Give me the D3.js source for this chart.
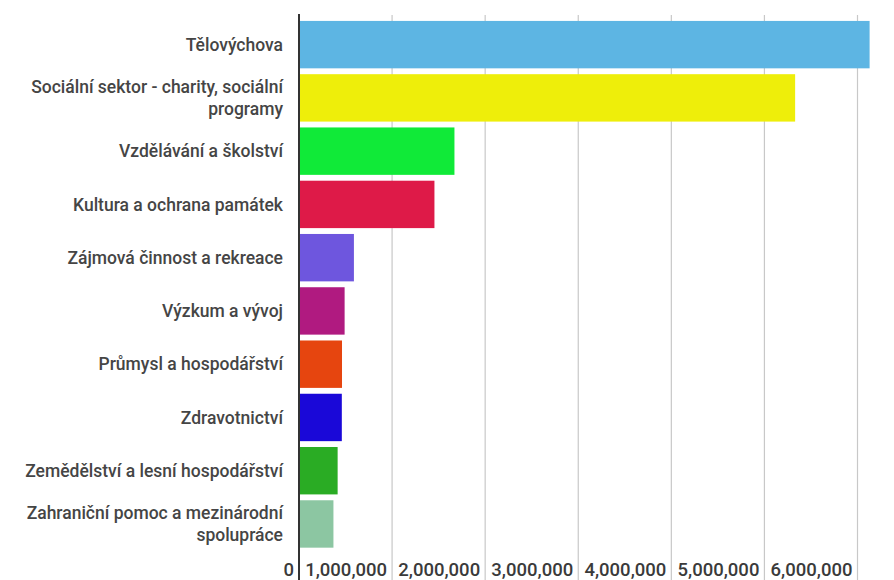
<!DOCTYPE html>
<html>
<head>
<meta charset="utf-8">
<script src="https://cdn.jsdelivr.net/npm/d3@7"></script>
<style>
  html, body { margin: 0; padding: 0; background: #fff; }
  svg { display: block; }
</style>
</head>
<body>
<svg id="chart" width="894" height="580"></svg>
<script>
const categories = [
  ["Tělovýchova"],
  ["Sociální sektor - charity, sociální", "programy"],
  ["Vzdělávání a školství"],
  ["Kultura a ochrana památek"],
  ["Zájmová činnost a rekreace"],
  ["Výzkum a vývoj"],
  ["Průmysl a hospodářství"],
  ["Zdravotnictví"],
  ["Zemědělství a lesní hospodářství"],
  ["Zahraniční pomoc a mezinárodní", "spolupráce"]
];
const values = [6130000, 5330000, 1670000, 1455000, 590000, 490000, 462000, 460000, 415000, 370000];
const colors = ["#5db5e3", "#eeee0a", "#10ea38", "#de1a48", "#6e56de", "#b01a80", "#e6450f", "#1a08d8", "#2aac24", "#8cc6a2"];
const tickValues = [0, 1000000, 2000000, 3000000, 4000000, 5000000, 6000000];

const svg = d3.select("#chart");
const x = d3.scaleLinear().domain([0, 6000000]).range([299, 857.5]);
const y = d3.scaleBand().domain(d3.range(categories.length)).range([18, 550.6]).paddingInner(0.11).paddingOuter(0.055);

const font = "Roboto, 'Noto Sans', sans-serif";

// gridlines
svg.append("g").selectAll("line").data(tickValues.slice(1)).join("line")
  .attr("x1", d => x(d)).attr("x2", d => x(d))
  .attr("y1", 15).attr("y2", 580)
  .attr("stroke", "#c8c8c8").attr("stroke-width", 1.2);

// bars
svg.append("g").selectAll("rect").data(values).join("rect")
  .attr("x", x(0)).attr("y", (d, i) => y(i))
  .attr("width", d => x(d) - x(0)).attr("height", y.bandwidth())
  .attr("fill", (d, i) => colors[i]);

// axis line
svg.append("line").attr("x1", x(0)).attr("x2", x(0)).attr("y1", 14).attr("y2", 580)
  .attr("stroke", "#333").attr("stroke-width", 2);

// tick labels
svg.append("g").selectAll("text").data(tickValues).join("text")
  .attr("x", d => x(d) - 5).attr("y", 575.5)
  .attr("text-anchor", "end")
  .attr("font-family", font).attr("font-size", 18.5).attr("font-weight", 500)
  .attr("fill", "#3a3a3a")
  .text(d => d3.format(",")(d));

// category labels
const lab = svg.append("g").selectAll("text").data(categories).join("text")
  .attr("text-anchor", "end")
  .attr("font-family", font).attr("font-size", 17.5).attr("font-weight", 500)
  .attr("fill", "#454545");
lab.each(function(lines, i) {
  const cy = y(i) + y.bandwidth() / 2;
  const lh = 22;
  const start = cy - (lines.length - 1) * lh / 2;
  d3.select(this).selectAll("tspan").data(lines).join("tspan")
    .attr("x", 283)
    .attr("y", (l, j) => start + j * lh)
    .attr("dy", "0.35em")
    .text(l => l);
});
</script>
</body>
</html>
